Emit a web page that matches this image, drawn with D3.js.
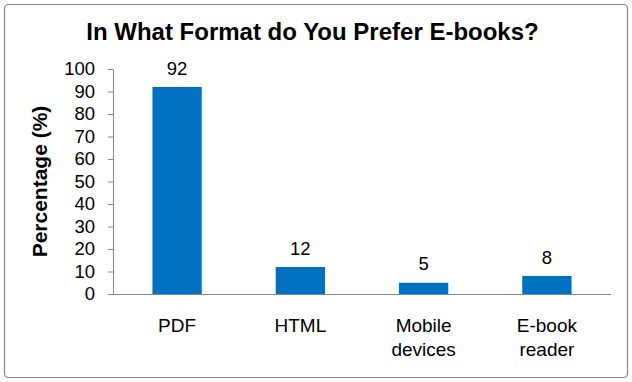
<!DOCTYPE html>
<html><head><meta charset="utf-8">
<script src="https://cdn.jsdelivr.net/npm/d3@7"></script>
<style>body{margin:0;background:#fff}svg{display:block}</style>
</head><body>
<script>
const categories = [["PDF"], ["HTML"], ["Mobile", "devices"], ["E-book", "reader"]];
const values = [92, 12, 5, 8];
const yTicks = [0,10,20,30,40,50,60,70,80,90,100];
const chartTitle = "In What Format do You Prefer E-books?";
const yTitle = "Percentage (%)";

(function(){
const W = 632, H = 382;
const F = "'Liberation Sans', Arial, sans-serif";
const svg = d3.select("body").append("svg").attr("width", W).attr("height", H);
svg.append("rect").attr("x", 4.5).attr("y", 4.5).attr("width", W-9).attr("height", H-9)
  .attr("rx", 4).attr("fill", "#fff").attr("stroke", "#868686").attr("stroke-width", 1.2);

const mL = 113, mR = 611, mT = 69, mB = 294;
const keys = categories.map(c => c.join(" "));
const x = d3.scaleBand().domain(keys).range([mL, mR]).paddingInner(0.6).paddingOuter(0.32);
const y = d3.scaleLinear().domain([0, 100]).range([mB, mT]);

svg.append("text").attr("x", 312.5).attr("y", 40).attr("text-anchor", "middle")
  .style("font", `bold 24px ${F}`).text(chartTitle);

const yAxis = svg.append("g").attr("transform", `translate(${mL},0)`)
  .call(d3.axisLeft(y).tickValues(yTicks).tickSize(5).tickPadding(13).tickSizeOuter(0));
yAxis.select(".domain").attr("stroke", "#868686");
yAxis.selectAll(".tick line").attr("stroke", "#868686");
yAxis.selectAll("text").style("font", `18.5px ${F}`).attr("fill", "#000");

svg.append("line").attr("x1", mL).attr("x2", mR).attr("y1", mB+0.5).attr("y2", mB+0.5)
  .attr("stroke", "#868686");

svg.append("text").attr("transform", `translate(47,181.5) rotate(-90)`)
  .attr("text-anchor", "middle")
  .style("font", `bold 21px ${F}`).text(yTitle);

svg.selectAll(".bar").data(values).join("rect")
  .attr("x", (d,i) => x(keys[i])).attr("width", x.bandwidth())
  .attr("y", d => y(d)).attr("height", d => mB - y(d)).attr("fill", "#0070C0");

svg.selectAll(".val").data(values).join("text")
  .attr("x", (d,i) => x(keys[i]) + x.bandwidth()/2).attr("y", d => y(d) - 12.5)
  .attr("text-anchor", "middle")
  .style("font", `18.5px ${F}`).text(d => d);

categories.forEach((lines, i) => {
  const cx = x(keys[i]) + x.bandwidth()/2;
  const t = svg.append("text").attr("x", cx).attr("y", 331.5)
    .attr("text-anchor", "middle").style("font", `19px ${F}`);
  lines.forEach((l, j) => t.append("tspan").attr("x", cx).attr("dy", j ? 24 : 0).text(l));
});
})();
</script>
</body></html>
